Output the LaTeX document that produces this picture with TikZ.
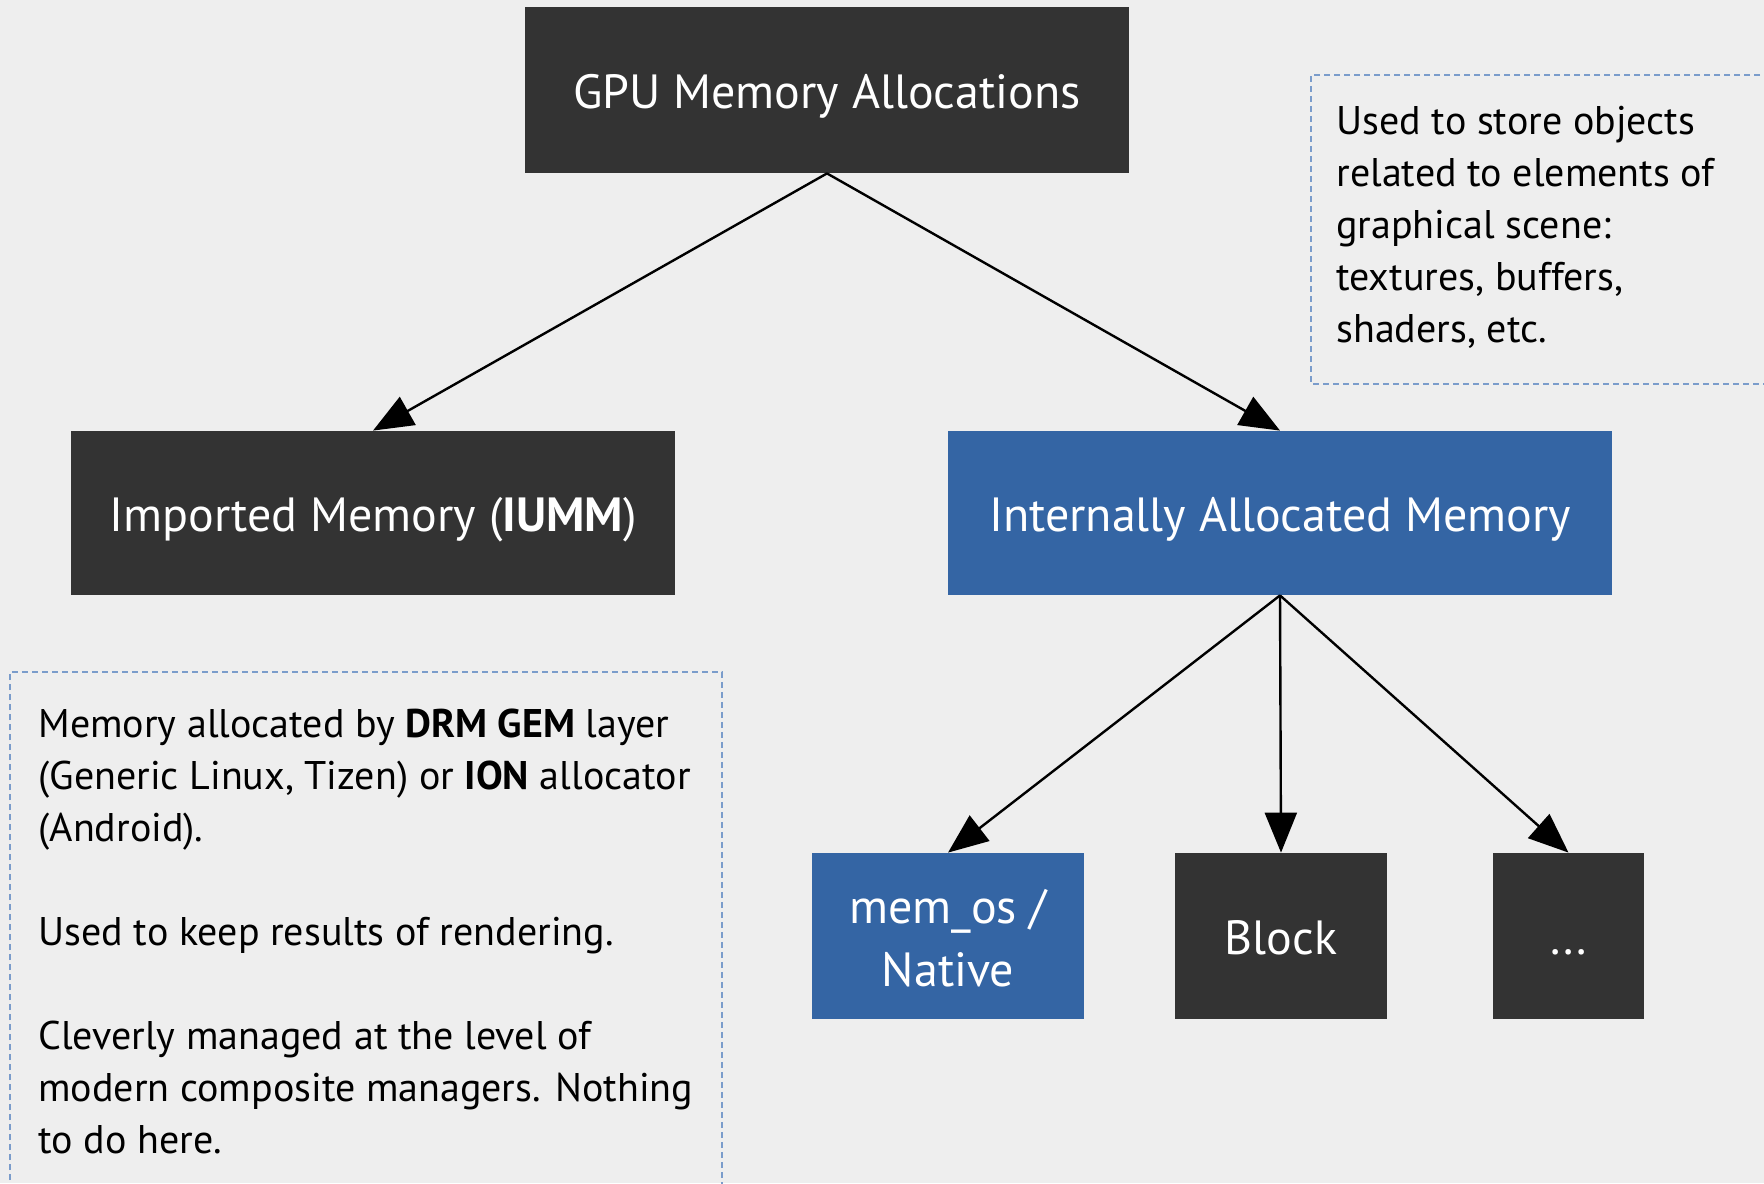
\documentclass[tikz,border=0pt]{standalone}
\usepackage{fontspec}
\setmainfont{PT Sans}
\usetikzlibrary{arrows.meta}
\definecolor{pagebg}{HTML}{EEEEEE}
\definecolor{boxdark}{HTML}{333333}
\definecolor{boxblue}{HTML}{3465A4}
\definecolor{notedash}{HTML}{7A9CCB}
\tikzset{
  block/.style={draw=none, inner sep=0pt, text=white, align=center,
    font=\fontsize{24}{31.5}\selectfont},
  oneline/.style={text height=24pt, text depth=5.5pt},
  twoline/.style={text height=50pt, text depth=0pt},
  darkbox/.style={block, fill=boxdark},
  bluebox/.style={block, fill=boxblue},
  notebox/.style={draw=notedash, line width=0.7pt, dash pattern=on 3pt off 2pt},
  notetext/.style={inner sep=0pt, anchor=north west, align=left, text=black,
    font=\fontsize{20}{26}\selectfont},
  arr/.style={draw=black, line width=1.2pt,
    -{Triangle[length=20pt, width=16pt]}}
}
\begin{document}
\begin{tikzpicture}[x=0.5pt, y=-0.5pt]
  % canvas
  \fill[pagebg] (0,0) rectangle (1764,1183);
  \useasboundingbox (0,0) rectangle (1764,1183);

  % main blocks
  \node[darkbox, oneline, minimum width=302pt, minimum height=83pt] (gpu) at (827,90)
    {GPU Memory Allocations};
  \node[darkbox, oneline, minimum width=302pt, minimum height=82pt] (imp) at (373,513)
    {Imported Memory (\textbf{IUMM})};
  \node[bluebox, oneline, minimum width=332pt, minimum height=82pt] (int) at (1280,513)
    {Internally Allocated Memory};
  \node[bluebox, twoline, minimum width=136pt, minimum height=83pt] (memos) at (948,936)
    {mem\_os /\\Native};
  \node[darkbox, oneline, minimum width=106pt, minimum height=83pt] (blk) at (1281,936)
    {Block};
  \node[darkbox, oneline, minimum width=75.5pt, minimum height=83pt] (more) at (1568.5,936)
    {...};

  % side notes
  \draw[notebox] (1790,75) -- (1311,75) -- (1311,384) -- (1790,384);
  \node[notetext] (noteint) at (1336,106)
    {Used to store objects\\related to elements of\\graphical scene:\\textures, buffers,\\shaders, etc.};
  \draw[notebox] (10,1200) -- (10,672) -- (722,672) -- (722,1200);
  \node[notetext] (noteimp) at (38,709)
    {Memory allocated by \textbf{DRM GEM} layer\\(Generic Linux, Tizen) or \textbf{ION} allocator\\(Android).\\[26pt]Used to keep results of rendering.\\[26pt]Cleverly managed at the level of\\modern composite managers. Nothing\\to do here.};

  % connectors
  \draw[arr] (gpu.south) -- (imp.north);
  \draw[arr] (gpu.south) -- (int.north);
  \draw[arr] (int.south) -- (memos.north);
  \draw[arr] (int.south) -- (blk.north);
  \draw[arr] (int.south) -- (more.north);
\end{tikzpicture}
\end{document}
